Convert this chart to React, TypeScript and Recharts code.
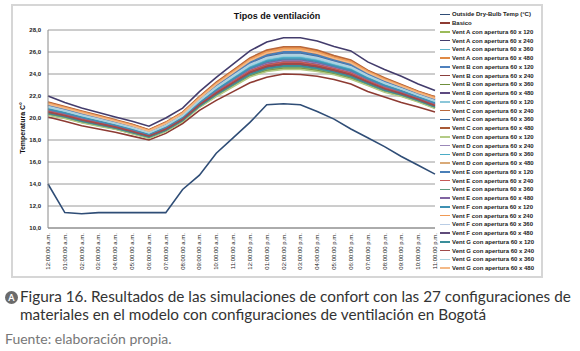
import { LineChart, Line, XAxis, YAxis, CartesianGrid } from "recharts"

const hours = [
  "12:00:00 a.m.", "01:00:00 a.m.", "02:00:00 a.m.", "03:00:00 a.m.", "04:00:00 a.m.", "05:00:00 a.m.",
  "06:00:00 a.m.", "07:00:00 a.m.", "08:00:00 a.m.", "09:00:00 a.m.", "10:00:00 a.m.", "11:00:00 a.m.",
  "12:00:00 p.m.", "01:00:00 p.m.", "02:00:00 p.m.", "03:00:00 p.m.", "04:00:00 p.m.", "05:00:00 p.m.",
  "06:00:00 p.m.", "07:00:00 p.m.", "08:00:00 p.m.", "09:00:00 p.m.", "10:00:00 p.m.", "11:00:00 p.m.",
]

const yTicks = [10, 12, 14, 16, 18, 20, 22, 24, 26, 28]

// temperatures, °C, one value per hour
const outsideTemp = [14.0, 11.4, 11.3, 11.4, 11.4, 11.4, 11.4, 11.4, 13.5, 14.8, 16.8, 18.2, 19.6, 21.2, 21.3, 21.2, 20.6, 19.9, 19.0, 18.2, 17.4, 16.5, 15.7, 14.9]
const basico = [20.1, 19.7, 19.3, 19.0, 18.7, 18.35, 18.0, 18.6, 19.5, 20.7, 21.6, 22.4, 23.2, 23.7, 24.0, 23.95, 23.8, 23.5, 23.1, 22.4, 21.9, 21.4, 21.0, 20.55]
const ventA120 = [20.35, 20.04, 19.64, 19.34, 19.03, 18.63, 18.23, 18.83, 19.73, 21.04, 22.05, 22.96, 23.87, 24.37, 24.58, 24.58, 24.37, 24.07, 23.67, 23.05, 22.45, 22.04, 21.54, 20.94]
const ventA240 = [22.0, 21.4, 20.9, 20.5, 20.1, 19.7, 19.25, 20.0, 20.9, 22.4, 23.7, 24.9, 26.1, 26.9, 27.3, 27.3, 27.0, 26.5, 26.1, 25.1, 24.4, 23.8, 23.1, 22.5]
const ventA360 = [20.9, 20.54, 20.14, 19.79, 19.43, 19.03, 18.58, 19.23, 20.13, 21.49, 22.65, 23.66, 24.67, 25.27, 25.53, 25.53, 25.27, 24.87, 24.47, 23.7, 23.05, 22.54, 21.99, 21.44]
const ventA480 = [21.4, 21.0, 20.6, 20.2, 19.8, 19.4, 18.9, 19.6, 20.5, 21.9, 23.2, 24.3, 25.4, 26.1, 26.4, 26.4, 26.1, 25.6, 25.2, 24.3, 23.6, 23.0, 22.4, 21.9]
const ventB120 = [21.13, 20.75, 20.35, 19.98, 19.6, 19.2, 18.73, 19.4, 20.3, 21.68, 22.9, 23.95, 25.0, 25.65, 25.93, 25.93, 25.65, 25.2, 24.8, 23.98, 23.3, 22.75, 22.18, 21.65]
const ventB240 = [20.58, 20.25, 19.85, 19.53, 19.2, 18.8, 18.38, 19.0, 19.9, 21.23, 22.3, 23.25, 24.2, 24.75, 24.98, 24.98, 24.75, 24.4, 24.0, 23.33, 22.7, 22.25, 21.73, 21.15]
const ventB360 = [20.3, 20.0, 19.6, 19.3, 19.0, 18.6, 18.2, 18.8, 19.7, 21.0, 22.0, 22.9, 23.8, 24.3, 24.5, 24.5, 24.3, 24.0, 23.6, 23.0, 22.4, 22.0, 21.5, 20.9]
const ventB480 = [20.66, 20.34, 19.94, 19.6, 19.27, 18.87, 18.43, 19.07, 19.97, 21.3, 22.4, 23.37, 24.33, 24.91, 25.13, 25.13, 24.91, 24.53, 24.13, 23.44, 22.8, 22.34, 21.8, 21.24]
const ventC120 = [20.94, 20.59, 20.19, 19.82, 19.47, 19.07, 18.61, 19.27, 20.17, 21.52, 22.7, 23.72, 24.73, 25.36, 25.61, 25.61, 25.36, 24.93, 24.53, 23.76, 23.1, 22.59, 22.02, 21.49]
const ventC240 = [21.45, 21.04, 20.64, 20.24, 19.83, 19.43, 18.93, 19.63, 20.53, 21.94, 23.25, 24.36, 25.47, 26.17, 26.48, 26.48, 26.17, 25.67, 25.27, 24.35, 23.65, 23.04, 22.44, 21.94]
const ventC360 = [21.08, 20.71, 20.31, 19.94, 19.57, 19.17, 18.7, 19.37, 20.27, 21.64, 22.85, 23.89, 24.93, 25.58, 25.85, 25.85, 25.58, 25.13, 24.73, 23.93, 23.25, 22.71, 22.14, 21.61]
const ventC480 = [21.21, 20.84, 20.44, 20.05, 19.67, 19.27, 18.78, 19.47, 20.37, 21.75, 23.0, 24.07, 25.13, 25.81, 26.08, 26.08, 25.81, 25.33, 24.93, 24.09, 23.4, 22.84, 22.25, 21.74]
const ventD120 = [20.25, 19.96, 19.56, 19.26, 18.97, 18.57, 18.17, 18.77, 19.67, 20.96, 21.95, 22.84, 23.73, 24.23, 24.42, 24.42, 24.23, 23.93, 23.53, 22.95, 22.35, 21.96, 21.46, 20.86]
const ventD240 = [20.71, 20.38, 19.98, 19.64, 19.3, 18.9, 18.46, 19.1, 20.0, 21.34, 22.45, 23.43, 24.4, 24.98, 25.21, 25.21, 24.98, 24.6, 24.2, 23.49, 22.85, 22.38, 21.84, 21.28]
const ventD360 = [20.85, 20.5, 20.1, 19.75, 19.4, 19.0, 18.55, 19.2, 20.1, 21.45, 22.6, 23.6, 24.6, 25.2, 25.45, 25.45, 25.2, 24.8, 24.4, 23.65, 23.0, 22.5, 21.95, 21.4]
const ventD480 = [21.31, 20.92, 20.52, 20.13, 19.73, 19.33, 18.84, 19.53, 20.43, 21.83, 23.1, 24.19, 25.27, 25.95, 26.24, 26.24, 25.95, 25.47, 25.07, 24.19, 23.5, 22.92, 22.33, 21.82]
const ventE120 = [21.18, 20.79, 20.39, 20.02, 19.63, 19.23, 18.76, 19.43, 20.33, 21.72, 22.95, 24.01, 25.07, 25.72, 26.01, 26.01, 25.72, 25.27, 24.87, 24.03, 23.35, 22.79, 22.22, 21.69]
const ventE240 = [20.63, 20.29, 19.89, 19.57, 19.23, 18.83, 18.41, 19.03, 19.93, 21.27, 22.35, 23.31, 24.27, 24.82, 25.06, 25.06, 24.82, 24.47, 24.07, 23.38, 22.75, 22.29, 21.77, 21.19]
const ventE360 = [20.39, 20.09, 19.69, 19.37, 19.07, 18.67, 18.26, 18.87, 19.77, 21.07, 22.1, 23.02, 23.93, 24.46, 24.66, 24.66, 24.46, 24.13, 23.73, 23.11, 22.5, 22.09, 21.57, 20.99]
const ventE480 = [20.76, 20.42, 20.02, 19.68, 19.33, 18.93, 18.49, 19.13, 20.03, 21.38, 22.5, 23.49, 24.47, 25.05, 25.29, 25.29, 25.05, 24.67, 24.27, 23.54, 22.9, 22.42, 21.88, 21.32]
const ventF120 = [20.8, 20.46, 20.06, 19.71, 19.37, 18.97, 18.52, 19.17, 20.07, 21.41, 22.55, 23.54, 24.53, 25.13, 25.37, 25.37, 25.13, 24.73, 24.33, 23.6, 22.95, 22.46, 21.91, 21.36]
const ventF240 = [21.35, 20.96, 20.56, 20.16, 19.77, 19.37, 18.87, 19.57, 20.47, 21.86, 23.15, 24.24, 25.33, 26.03, 26.32, 26.32, 26.03, 25.53, 25.13, 24.25, 23.55, 22.96, 22.36, 21.86]
const ventF360 = [21.04, 20.67, 20.27, 19.9, 19.53, 19.13, 18.67, 19.33, 20.23, 21.6, 22.8, 23.84, 24.87, 25.5, 25.77, 25.77, 25.5, 25.07, 24.67, 23.86, 23.2, 22.67, 22.1, 21.57]
const ventF480 = [20.49, 20.17, 19.77, 19.45, 19.13, 18.73, 18.32, 18.93, 19.83, 21.15, 22.2, 23.14, 24.07, 24.6, 24.82, 24.82, 24.6, 24.27, 23.87, 23.21, 22.6, 22.17, 21.65, 21.07]
const ventG120 = [20.44, 20.13, 19.73, 19.41, 19.1, 18.7, 18.29, 18.9, 19.8, 21.11, 22.15, 23.08, 24.0, 24.53, 24.74, 24.74, 24.53, 24.2, 23.8, 23.16, 22.55, 22.13, 21.61, 21.03]
const ventG240 = [20.53, 20.21, 19.81, 19.49, 19.17, 18.77, 18.35, 18.97, 19.87, 21.19, 22.25, 23.19, 24.13, 24.68, 24.9, 24.9, 24.68, 24.33, 23.93, 23.28, 22.65, 22.21, 21.69, 21.11]
const ventG360 = [20.99, 20.63, 20.23, 19.86, 19.5, 19.1, 18.64, 19.3, 20.2, 21.56, 22.75, 23.78, 24.8, 25.43, 25.69, 25.69, 25.43, 25.0, 24.6, 23.81, 23.15, 22.63, 22.06, 21.53]
const ventG480 = [21.26, 20.88, 20.48, 20.09, 19.7, 19.3, 18.81, 19.5, 20.4, 21.79, 23.05, 24.13, 25.2, 25.88, 26.16, 26.16, 25.88, 25.4, 25.0, 24.14, 23.45, 22.88, 22.29, 21.78]

const series = [
  { key: "outside", name: "Outside Dry-Bulb Temp (°C)", color: "#2f4d76", values: outsideTemp },
  { key: "basico", name: "Basico", color: "#8e3b33", values: basico },
  { key: "a120", name: "Vent A con apertura 60 x 120", color: "#9bbb59", values: ventA120 },
  { key: "a240", name: "Vent A con apertura 60 x 240", color: "#433c6c", values: ventA240 },
  { key: "a360", name: "Vent A con apertura 60 x 360", color: "#5fb4cc", values: ventA360 },
  { key: "a480", name: "Vent A con apertura 60 x 480", color: "#e08a45", values: ventA480 },
  { key: "b120", name: "Vent B con apertura 60 x 120", color: "#4f81bd", values: ventB120 },
  { key: "b240", name: "Vent B con apertura 60 x 240", color: "#8b3f3c", values: ventB240 },
  { key: "b360", name: "Vent B con apertura 60 x 360", color: "#6f8f3c", values: ventB360 },
  { key: "b480", name: "Vent B con apertura 60 x 480", color: "#5d4a80", values: ventB480 },
  { key: "c120", name: "Vent C con apertura 60 x 120", color: "#8cc7d9", values: ventC120 },
  { key: "c240", name: "Vent C con apertura 60 x 240", color: "#b8683c", values: ventC240 },
  { key: "c360", name: "Vent C con apertura 60 x 360", color: "#3e6b9e", values: ventC360 },
  { key: "c480", name: "Vent C con apertura 60 x 480", color: "#a95a36", values: ventC480 },
  { key: "d120", name: "Vent D con apertura 60 x 120", color: "#b4cb86", values: ventD120 },
  { key: "d240", name: "Vent D con apertura 60 x 240", color: "#9b88b8", values: ventD240 },
  { key: "d360", name: "Vent D con apertura 60 x 360", color: "#4bacc6", values: ventD360 },
  { key: "d480", name: "Vent D con apertura 60 x 480", color: "#d9aa78", values: ventD480 },
  { key: "e120", name: "Vent E con apertura 60 x 120", color: "#4a7fb8", values: ventE120 },
  { key: "e240", name: "Vent E con apertura 60 x 240", color: "#c65a57", values: ventE240 },
  { key: "e360", name: "Vent E con apertura 60 x 360", color: "#5f9a80", values: ventE360 },
  { key: "e480", name: "Vent E con apertura 60 x 480", color: "#8064a2", values: ventE480 },
  { key: "f120", name: "Vent F con apertura 60 x 120", color: "#3f91b2", values: ventF120 },
  { key: "f240", name: "Vent F con apertura 60 x 240", color: "#f09a55", values: ventF240 },
  { key: "f360", name: "Vent F con apertura 60 x 360", color: "#b9cde5", values: ventF360 },
  { key: "f480", name: "Vent F con apertura 60 x 480", color: "#5f4b7a", values: ventF480 },
  { key: "g120", name: "Vent G con apertura 60 x 120", color: "#3a8e9a", values: ventG120 },
  { key: "g240", name: "Vent G con apertura 60 x 240", color: "#a04a4a", values: ventG240 },
  { key: "g360", name: "Vent G con apertura 60 x 360", color: "#a9d3e0", values: ventG360 },
  { key: "g480", name: "Vent G con apertura 60 x 480", color: "#f4b987", values: ventG480 },
]

const data = hours.map((hour, i) => {
  const row: Record<string, any> = { hour }
  series.forEach((s) => (row[s.key] = s.values[i]))
  return row
})

const axisFont = "'Liberation Sans', Arial, sans-serif"
const captionFont = "Lato, 'Open Sans', sans-serif"

function HourTick({ x, y, payload }: any) {
  return (
    <text
      x={x}
      y={y}
      dx={-5}
      dy={2}
      transform={`rotate(-90 ${x} ${y})`}
      textAnchor="end"
      fontSize={6}
      fontFamily={axisFont}
      fill="#222"
    >
      {payload.value}
    </text>
  )
}

export default function App() {
  return (
    <div style={{ position: "absolute", left: 0, top: 0, width: 580, height: 351, background: "#fff" }}>
      <div
        style={{
          position: "absolute",
          left: 11,
          top: 4,
          width: 532,
          height: 274,
          border: "2px solid #d6d6d6",
          boxSizing: "border-box",
        }}
      />
      <div
        style={{
          position: "absolute",
          left: 177,
          top: 11,
          width: 200,
          textAlign: "center",
          fontFamily: axisFont,
          fontWeight: "bold",
          fontSize: 9,
          color: "#111",
        }}
      >
        Tipos de ventilación
      </div>
      <div
        style={{
          position: "absolute",
          left: 22,
          top: 128,
          transform: "translate(-50%, -50%) rotate(-90deg)",
          whiteSpace: "nowrap",
          fontFamily: axisFont,
          fontWeight: "bold",
          fontSize: 7,
          color: "#111",
        }}
      >
        Temperatura C°
      </div>

      <div style={{ position: "absolute", left: 0, top: 0 }}>
        <LineChart width={440} height={280} data={data} margin={{ top: 30, right: 5, bottom: 0, left: 0 }}>
          <CartesianGrid vertical={false} stroke="#9a9a9a" strokeWidth={1} />
          <XAxis
            dataKey="hour"
            interval={0}
            height={52}
            tickLine={false}
            tickSize={0}
            tickMargin={0}
            axisLine={{ stroke: "#8a8a8a" }}
            tick={<HourTick />}
          />
          <YAxis
            width={48}
            domain={[10, 28]}
            ticks={yTicks}
            interval={0}
            tickLine={false}
            tickSize={5}
            tickMargin={2}
            axisLine={{ stroke: "#8a8a8a" }}
            tickFormatter={(v: number) => v.toFixed(1).replace(".", ",")}
            tick={{ fontSize: 6, fontFamily: axisFont, fontWeight: "bold", fill: "#222" }}
          />
          {series.map((s) => (
            <Line
              key={s.key}
              dataKey={s.key}
              name={s.name}
              stroke={s.color}
              strokeWidth={1.6}
              dot={false}
              isAnimationActive={false}
            />
          ))}
        </LineChart>
      </div>

      <div style={{ position: "absolute", left: 440, top: 10 }}>
        {series.map((s) => (
          <div key={s.key} style={{ display: "flex", alignItems: "center", height: 8.75 }}>
            <div style={{ width: 10, height: 1.5, background: s.color, marginRight: 2 }} />
            <span
              style={{
                fontFamily: axisFont,
                fontWeight: "bold",
                fontSize: 6,
                color: "#222",
                whiteSpace: "nowrap",
              }}
            >
              {s.name}
            </span>
          </div>
        ))}
      </div>

      <div
        style={{
          position: "absolute",
          left: 5,
          top: 291,
          width: 13,
          height: 13,
          borderRadius: "50%",
          background: "#6b6b6b",
          color: "#fff",
          fontFamily: captionFont,
          fontSize: 9,
          fontWeight: "bold",
          lineHeight: "13px",
          textAlign: "center",
        }}
      >
        A
      </div>
      <div
        style={{
          position: "absolute",
          left: 20,
          top: 287,
          fontFamily: captionFont,
          fontSize: 15.3,
          lineHeight: "18px",
          color: "#333",
          whiteSpace: "nowrap",
        }}
      >
        Figura 16. Resultados de las simulaciones de confort con las 27 configuraciones de
        <br />
        materiales en el modelo con configuraciones de ventilación en Bogotá
      </div>
      <div
        style={{
          position: "absolute",
          left: 5,
          top: 330,
          fontFamily: captionFont,
          fontSize: 14,
          color: "#777",
          whiteSpace: "nowrap",
        }}
      >
        Fuente: elaboración propia.
      </div>
    </div>
  )
}
